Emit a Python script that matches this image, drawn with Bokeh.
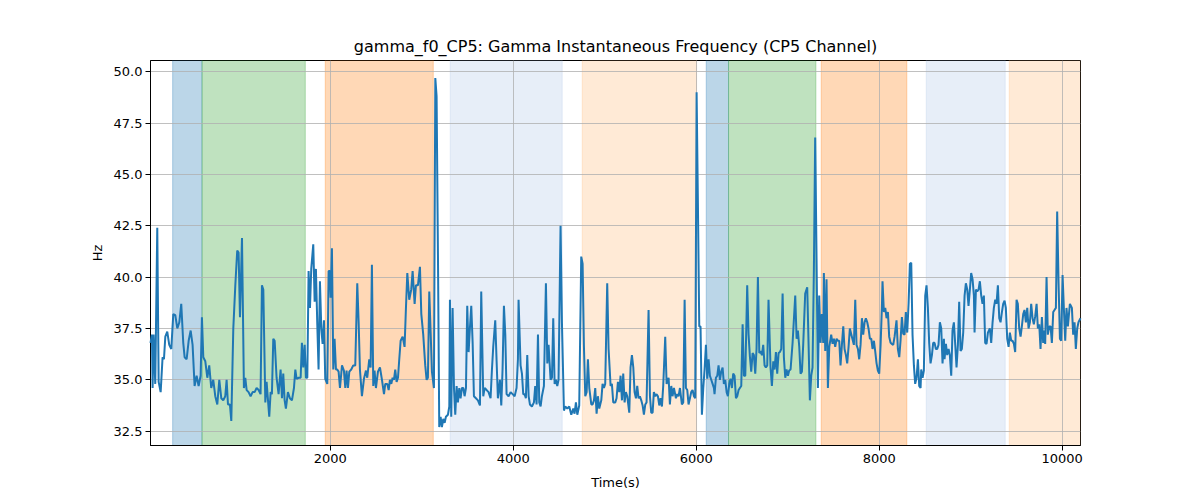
from bokeh.plotting import figure
from bokeh.models import Range1d, FixedTicker, PrintfTickFormatter, ColumnDataSource
from bokeh.embed import file_html
from bokeh.resources import INLINE

# ---- data ----
time_s = [35, 51, 58, 69, 87, 109, 124, 146, 167, 182, 197, 218, 240, 262, 284, 306, 328, 350, 371, 393,
          408, 430, 452, 474, 495, 517, 539, 561, 583, 597, 612, 634, 656, 677, 699, 721, 743, 765, 787, 809,
          830, 852, 867, 882, 903, 918, 940, 962, 983, 998, 1013, 1035, 1056, 1071, 1086, 1107, 1129, 1151, 1173, 1195,
          1217, 1238, 1253, 1268,
          1290, 1304, 1333, 1348, 1362, 1377, 1392, 1413, 1435, 1457, 1472, 1486, 1501, 1515, 1537, 1559, 1581, 1603,
          1618, 1632, 1654, 1676, 1690, 1705, 1720, 1734, 1749, 1763, 1778, 1792, 1814, 1829, 1843, 1858, 1872, 1887,
          1902, 1916, 1931, 1945, 1967, 1982, 1996, 2004, 2018, 2033, 2047, 2062, 2076, 2091, 2106, 2128, 2149, 2164,
          2178, 2193, 2208, 2229, 2251, 2273, 2295, 2310, 2324, 2346, 2368, 2390, 2404, 2426, 2441, 2455, 2470, 2484,
          2499, 2521, 2543, 2565, 2587, 2601,
          2623, 2638, 2652, 2667, 2681, 2696, 2710, 2725, 2740, 2754, 2769, 2791, 2812, 2827, 2842, 2863, 2885, 2900,
          2922, 2936, 2958, 2980, 2995, 3016, 3038, 3053, 3067, 3082, 3097, 3111, 3133, 3148, 3162, 3177, 3191, 3206,
          3220, 3235, 3250, 3264, 3286, 3301, 3308, 3322, 3337, 3352, 3366, 3381, 3395, 3410, 3424, 3439, 3454, 3468,
          3483, 3497, 3512, 3526, 3541, 3556, 3570, 3592, 3614, 3636, 3650, 3672, 3687, 3709, 3730, 3752, 3767, 3781,
          3803, 3818, 3832, 3854, 3869, 3883, 3898, 3913, 3927,
          3949, 3971, 3993, 4015, 4036, 4051, 4058, 4080, 4095, 4109, 4124, 4138, 4153, 4168, 4182, 4204, 4226, 4240,
          4255, 4270, 4284, 4299, 4313, 4335, 4357, 4372, 4386, 4408, 4423, 4437, 4452, 4466, 4481, 4495, 4517, 4532,
          4554, 4568, 4590, 4612, 4634, 4656, 4670, 4685, 4700, 4721, 4743, 4758, 4772, 4787, 4802, 4816, 4831, 4853,
          4867, 4882, 4896, 4911, 4925, 4940, 4962, 4976, 4991, 5005, 5027, 5042, 5064, 5078, 5093, 5115, 5129, 5144,
          5159, 5173, 5188, 5202, 5217, 5231, 5246,
          5268, 5282, 5297, 5312, 5326, 5341, 5355, 5370, 5384, 5399, 5414, 5428, 5443, 5457, 5479, 5494, 5508, 5523,
          5537, 5552, 5567, 5581, 5596, 5610, 5625, 5639, 5661, 5676, 5698, 5712, 5727, 5741, 5756, 5778, 5792, 5807,
          5822, 5843, 5858, 5873, 5887, 5902, 5916, 5931, 5945, 5960, 5975, 5989, 6004, 6018, 6033, 6047, 6062, 6077,
          6091, 6106, 6120, 6135, 6149, 6164, 6179, 6193, 6200, 6215, 6230, 6244, 6259, 6273, 6288, 6302, 6317, 6332,
          6346, 6361, 6375, 6390, 6404, 6419, 6434, 6448, 6463, 6477, 6492, 6507, 6521, 6536, 6557, 6572, 6587,
          6601, 6616, 6630, 6645, 6659, 6674, 6689, 6703, 6718, 6732, 6747, 6761, 6776, 6790, 6812, 6827, 6842, 6856,
          6871, 6885, 6900, 6914, 6929, 6944, 6958, 6973, 6987, 7002, 7016, 7031, 7053, 7082, 7097, 7111, 7126, 7140,
          7155, 7169, 7191, 7213, 7228, 7242, 7257, 7271, 7286, 7300, 7315, 7330, 7344, 7359, 7373, 7388, 7395, 7410,
          7424, 7439, 7454, 7475, 7490, 7505, 7519, 7534, 7548, 7563, 7577, 7592, 7607, 7621, 7636, 7650, 7665, 7679,
          7701, 7723, 7738, 7752, 7767, 7781, 7796, 7811, 7825, 7840, 7854, 7869, 7883, 7898,
          7913, 7927, 7942, 7956, 7971, 7985, 8000, 8015, 8029, 8036, 8051, 8066, 8080, 8095, 8109, 8124, 8138, 8153,
          8168, 8189, 8204, 8219, 8233, 8248, 8262, 8277, 8291, 8306, 8321, 8335, 8350, 8364, 8379, 8393, 8408, 8423,
          8437, 8452, 8459, 8474, 8488, 8503, 8517, 8532, 8546, 8561, 8576, 8590, 8605, 8619, 8634, 8648, 8663, 8678,
          8692, 8707, 8714, 8729, 8743, 8758, 8772, 8787, 8801, 8816, 8831, 8845, 8860, 8874, 8889, 8903, 8918, 8933,
          8947, 8962, 8976, 8991, 9005, 9020, 9035, 9042, 9057, 9071, 9086, 9100, 9115, 9129, 9144, 9158, 9173, 9188,
          9209,
          9224, 9239, 9253, 9268, 9282, 9297, 9312, 9326, 9341, 9355, 9370, 9384, 9399, 9414, 9428, 9443, 9457, 9472,
          9486, 9501, 9515, 9530, 9545, 9559, 9574, 9588, 9603, 9618, 9632, 9647, 9661, 9676, 9690, 9705, 9720, 9734,
          9749, 9763, 9778, 9792, 9807, 9814, 9829, 9843, 9858, 9873, 9887, 9902, 9916, 9931, 9945, 9960, 9975, 9989,
          10004, 10018, 10033, 10047, 10062, 10084, 10106, 10120, 10135, 10149, 10164, 10178, 10200]

freq_hz = [36.8, 37.2, 34.6, 37.2, 34.8, 42.4, 34.9, 34.4, 36.1, 36.0, 37.1, 37.35, 36.7, 36.5, 38.2, 38.15, 37.5, 37.8, 38.7, 36.8,
           36.1, 36.0, 36.9, 37.4, 36.7, 34.7, 35.2, 34.7, 35.2, 38.05, 36.1, 35.9, 35.1, 35.7, 34.6, 35.0, 34.2, 33.8, 35.0, 34.1,
           34.0, 34.2, 35.0, 33.8, 33.8, 33.0, 37.5, 39.6, 41.3, 41.2, 38.05, 41.9, 34.6, 35.1, 34.5, 34.4, 34.2, 34.4, 34.4, 34.6,
           34.5, 34.3, 39.6, 39.4,
           33.9, 34.9, 33.2, 34.4, 34.3, 37.0, 36.9, 35.1, 34.3, 35.5, 34.1, 35.3, 34.0, 33.6, 34.4, 34.1, 34.0, 34.6,
           35.5, 35.05, 35.1, 35.1, 36.8, 35.6, 36.7, 35.1, 35.1, 40.3, 38.5, 40.4, 41.6, 38.8, 40.4, 37.7, 35.5, 39.8,
           37.5, 36.75, 37.9, 35.05, 34.8, 40.3, 40.3, 39.0, 41.4, 35.5, 37.0, 35.5, 35.5, 35.4, 34.6, 35.7, 35.45, 34.6,
           35.45, 34.6, 35.4, 35.5, 35.7, 35.7, 39.7, 37.8, 35.5, 34.2, 35.05, 35.45, 35.1, 36.0, 35.6, 40.6, 34.7, 35.45,
           34.6, 35.4, 35.6, 35.0, 34.3, 34.8,
           34.8, 34.5, 35.0, 34.8, 35.1, 35.0, 35.5, 34.9, 35.1, 36.0, 36.9, 37.1, 36.6, 38.5, 40.2, 38.9, 39.4, 40.3,
           38.7, 39.6, 39.6, 40.5, 38.2, 37.2, 35.7, 35.0, 35.1, 39.3, 37.3, 35.4, 34.6, 49.7, 48.8, 41.05, 32.7, 33.2,
           32.7, 33.1, 32.9, 33.2, 33.3, 33.7, 38.9, 33.2, 38.5, 34.6, 33.3, 34.7, 33.9, 34.6, 34.1, 34.6, 34.6, 34.2,
           34.6, 38.6, 36.35, 37.5, 38.6, 36.8, 34.2, 34.1, 34.0, 33.75, 39.3, 34.2, 34.6, 34.5, 34.4, 34.1, 35.5, 36.6,
           37.9, 35.9, 34.1, 35.0, 33.75, 35.5, 38.6, 37.2, 34.3,
           34.2, 34.4, 34.3, 34.2, 34.6, 36.0, 38.9, 35.7, 35.3, 34.3, 34.3, 34.1, 36.2, 34.2, 33.8, 33.7, 33.9, 34.7,
           33.8, 37.2, 33.9, 33.7, 34.2, 34.7, 39.7, 35.8, 36.7, 35.0, 35.1, 38.0, 34.8, 35.0, 34.7, 35.0, 42.5, 37.8,
           33.5, 33.7, 33.6, 33.7, 33.3, 33.6, 33.35, 33.9, 33.3, 33.75, 41.0, 40.65, 36.7, 34.2, 34.4, 36.0, 34.6, 33.8,
           33.8, 34.0, 34.6, 33.35, 34.2, 33.6, 34.0, 34.8, 34.6, 34.8, 39.7, 36.5, 34.7, 34.8, 33.9, 33.9, 34.1, 34.9,
           34.4, 35.2, 34.0, 35.3, 33.9, 34.4, 34.2,
           33.4, 35.6, 36.2, 35.6, 34.4, 34.1, 34.7, 34.1, 34.2, 34.0, 33.75, 33.3, 33.8, 33.9, 38.4, 34.2, 33.4, 33.4,
           34.4, 34.2, 34.3, 34.2, 33.75, 34.1, 33.7, 34.7, 37.1, 34.8, 35.1, 33.8, 34.7, 34.2, 34.6, 34.1, 34.3, 34.2,
           34.6, 33.8, 33.9, 38.9, 34.6, 34.5, 33.8, 34.1, 34.4, 34.5, 34.2, 34.1, 49.0, 43.65, 37.6, 37.6, 33.3, 34.6,
           35.5, 36.7, 35.05, 36.0, 35.2, 35.0, 34.8, 34.6, 34.3, 35.1, 35.2, 35.7, 35.0, 35.4, 35.6, 34.8, 35.0, 34.4,
           34.2, 34.8, 35.05, 34.6, 35.3, 35.2, 34.1, 34.2, 34.5, 34.6, 34.7, 37.7, 35.2, 35.2, 39.6, 37.2, 36.1,
           35.4, 36.3, 36.2, 35.3, 36.5, 40.0, 36.3, 36.4, 36.2, 36.7, 35.7, 35.6, 35.7, 38.9, 35.6, 34.7, 35.9, 35.5,
           36.35, 35.3, 36.3, 36.35, 36.5, 39.2, 36.1, 35.1, 35.5, 35.2, 35.45, 35.5, 36.8, 39.1, 37.0, 37.4, 36.6, 35.3,
           35.4, 36.7, 39.2, 39.5, 36.7, 34.0, 35.2, 35.6, 40.4, 46.8, 40.9, 34.6, 39.1, 36.8, 38.2, 36.8, 40.2, 36.4,
           39.9, 34.6, 36.6, 37.2, 36.75, 37.0, 36.6, 37.0, 36.9, 36.9, 35.7, 36.7, 37.6, 36.5, 36.2, 35.8, 36.6, 37.5,
           37.1, 36.7, 38.9, 36.7, 36.5, 36.0, 36.7, 38.0, 37.2, 37.8, 38.0, 37.8, 37.5, 37.0,
           37.0, 36.5, 36.9, 36.4, 35.8, 35.45, 35.3, 36.7, 38.5, 39.8, 38.3, 38.5, 38.0, 38.3, 37.1, 36.8, 36.75, 36.7,
           37.1, 37.9, 36.5, 36.1, 36.9, 38.05, 37.25, 37.2, 38.3, 37.3, 38.7, 40.65, 40.7, 37.2, 35.7, 34.8, 35.1, 36.0,
           34.7, 34.6, 35.5, 35.1, 35.45, 39.1, 39.6, 38.5, 36.8, 35.8, 36.2, 36.8, 36.8, 36.5, 36.5, 36.7, 37.8, 37.5,
           35.8, 37.0, 36.0, 36.75, 36.2, 36.5, 36.2, 35.2, 37.4, 37.8, 36.7, 35.6, 36.7, 38.8, 36.4, 36.5, 37.3, 39.1,
           39.7, 39.4, 38.6, 39.4, 40.2, 39.9, 39.1, 37.3, 39.4, 39.3, 39.4, 39.8, 39.1, 38.7, 39.1, 36.8, 36.75, 37.3,
           37.5,
           36.8, 37.8, 38.5, 38.9, 38.7, 39.6, 38.0, 37.8, 38.3, 38.7, 38.85, 38.5, 37.0, 36.6, 37.3, 36.9, 36.9, 36.75,
           36.35, 38.9, 38.7, 37.5, 37.1, 37.6, 38.2, 38.4, 37.8, 38.5, 37.5, 37.8, 38.7, 38.0, 37.7, 38.1, 38.7, 37.5,
           37.7, 36.5, 38.05, 36.8, 37.4, 36.75, 40.0, 37.2, 37.6, 37.6, 36.8, 38.3, 38.4, 38.5, 43.2, 39.75, 37.0, 36.9,
           40.1, 38.5, 36.9, 38.5, 37.6, 38.7, 38.5, 37.2, 37.8, 36.5, 37.5, 37.8, 38.0]

span_start = [277, 598, 1945, 3311, 4754, 6109, 6353, 7366, 8514, 9421]
span_end = [598, 1727, 3126, 4535, 6004, 6353, 7308, 8302, 9377, 10300]
span_color = ["#1f77b4", "#2ca02c", "#ff7f0e", "#aec7e8", "#ffbb78",
              "#1f77b4", "#2ca02c", "#ff7f0e", "#aec7e8", "#ffbb78"]

x_ticks = [2000, 4000, 6000, 8000, 10000]
y_ticks = [32.5, 35.0, 37.5, 40.0, 42.5, 45.0, 47.5, 50.0]

FONT = "DejaVu Sans"

p = figure(
    output_backend="svg", toolbar_location=None,
    frame_width=930, frame_height=385,
    min_border_left=150, min_border_right=104, min_border_top=60, min_border_bottom=47,
    x_range=Range1d(35, 10200), y_range=Range1d(31.8, 50.55),
    title="gamma_f0_CP5: Gamma Instantaneous Frequency (CP5 Channel)",
)
p.background_fill_color = "white"
p.border_fill_color = "white"
p.outline_line_color = "black"
p.outline_line_width = 1

p.title.text_font = FONT
p.title.text_font_size = "16px"
p.title.text_font_style = "normal"
p.title.align = "center"
p.title.text_color = "black"

span_src = ColumnDataSource(dict(left=span_start, right=span_end, color=span_color))
p.quad(left="left", right="right", bottom=25, top=60, source=span_src,
       fill_color="color", fill_alpha=0.3, line_color="color", line_alpha=0.3, line_width=1,
       level="underlay")

for g in (p.xgrid, p.ygrid):
    g.grid_line_color = "#b0b0b0"
    g.grid_line_width = 0.8
    g.level = "glyph"

p.line(time_s, freq_hz, line_color="#1f77b4", line_width=2, level="annotation")

p.xaxis.ticker = FixedTicker(ticks=x_ticks)
p.yaxis.ticker = FixedTicker(ticks=y_ticks)
p.xaxis.formatter = PrintfTickFormatter(format="%d")
p.yaxis.formatter = PrintfTickFormatter(format="%.1f")
p.xaxis.axis_label = "Time(s)"
p.yaxis.axis_label = "Hz"
for ax in (p.xaxis, p.yaxis):
    ax.axis_label_text_font = FONT
    ax.axis_label_text_font_size = "13px"
    ax.axis_label_text_font_style = "normal"
    ax.axis_label_text_color = "black"
    ax.major_label_text_font = FONT
    ax.major_label_text_font_size = "13px"
    ax.major_label_text_color = "black"
    ax.axis_line_color = "black"
    ax.major_tick_line_color = "black"
    ax.major_tick_out = 5
    ax.major_tick_in = 0
    ax.minor_tick_line_color = None
    ax.major_label_standoff = 3
p.xaxis.axis_label_standoff = 9
p.yaxis.axis_label_standoff = 6

open("out.html", "w").write(file_html(p, INLINE))
